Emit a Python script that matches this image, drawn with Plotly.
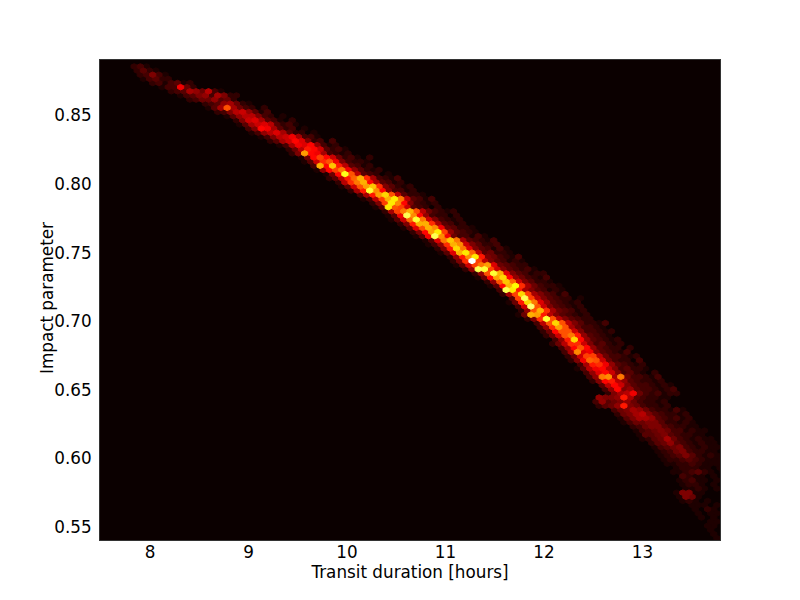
import plotly.graph_objects as go

X_LABEL = "Transit duration [hours]"
Y_LABEL = "Impact parameter"
x_ticks = [8, 9, 10, 11, 12, 13]
y_ticks = [0.55, 0.60, 0.65, 0.70, 0.75, 0.80, 0.85]
y_tick_text = ["0.55", "0.60", "0.65", "0.70", "0.75", "0.80", "0.85"]
DURATION_RANGE = [7.4925, 13.787]
IMPACT_RANGE = [0.5405, 0.8905]
LATTICE_TOP = 0.8888
GRID_COLS = 100
GRID_ROWS = 58
MAX_COUNT = 35

# Hexbin rows, counted from the top edge; each row holds its first column and the counts
first_col = [5,6,6,7,8,10,11,13,14,17,17,19,20,22,22,24,24,26,27,29,30,31,32,33,34,35,36,37,38,39,40,42,42,44,44,46,46,47,48,49,50,51,52,53,54,55,56,57,57,59,60,61,62,63,64,65,66,66,67,68,67,69,70,71,71,72,73,73,74,75,75,76,77,77,78,79,79,81,81,82,80,80,80,83,83,84,84,86,86,87,87,89,89,90,90,91,91,93,92,94,93,94,94,93,93,94,95,96,96,97,98,98,98,99,99]
first_row = 1
row_counts = [
[2,3,1],[2,4,2,1],[2,3,6,3,1],[1,3,4,2,2],[2,3,1,3,4,1,2],[1,3,3,12,5,2],
[2,3,4,8,7,5,9,3,1],[1,3,4,6,7,3,8,6,2,2],[2,3,5,5,7,4,5,2,0],[2,3,4,7,8,5,2,1],
[1,4,8,17,8,5,3,2,0,2],[2,3,6,9,10,7,4,1,3],[1,4,7,9,9,6,3,2,0,1],[2,6,10,11,8,4,3,1,0,2],
[1,4,8,10,11,9,4,2,3,1],[3,6,13,12,8,4,2,3,0,1],[1,3,7,9,11,8,4,2,2,0,1],[1,3,6,9,10,12,8,3,3,1],
[2,4,8,10,13,11,6,2,3,0,3],[1,3,8,12,11,13,7,3,1,2],[2,5,9,14,13,10,4,2,3,1],[2,6,21,13,12,8,3,2,1,2],
[1,5,13,16,13,10,5,2,3,1,0,2],[1,4,10,15,17,12,6,3,2,2,1],[3,22,13,23,14,9,4,3,1,2],[1,7,13,16,19,12,7,4,2,1,2],
[1,5,13,27,17,9,4,3,2,0,1],[2,4,9,14,18,22,15,8,3,2,1,3],[2,9,15,19,22,13,8,4,3,1,2],[1,4,10,17,21,23,15,6,4,2,1,2],
[2,8,14,28,20,13,6,3,3,1,2],[3,8,14,21,24,17,9,4,2,2,1],[1,3,9,16,22,25,19,9,4,3,1,3],[2,6,16,25,20,13,6,3,2,1,2],
[1,4,25,17,16,10,4,3,2,0,2],[2,8,16,19,22,17,9,5,3,2,1,2],[1,4,12,29,20,13,7,3,2,2,0,2],[1,4,10,18,28,19,10,6,3,2,1,2],
[2,6,14,22,22,15,8,4,3,1,2],[1,4,11,17,22,20,12,5,4,2,2,1],[2,6,13,21,25,16,7,4,3,2,1],[1,4,12,29,20,12,5,3,3,1,3,1],
[1,4,11,19,23,19,8,4,3,2,1,3],[1,3,7,15,22,20,10,6,4,2,2,3],[2,6,14,24,19,11,6,4,3,1,3,1],[1,4,11,22,25,18,9,4,5,2,2,1],
[2,7,14,20,25,14,6,5,3,2,1,3],[2,6,15,35,16,9,6,4,3,1,2,1],[1,4,10,16,19,21,11,5,4,3,2,2],[2,7,29,28,16,10,6,4,3,2,3,1],
[2,7,17,28,22,11,6,4,3,1,2,2],[1,5,13,21,24,13,7,5,3,2,1,3],[2,7,17,23,18,10,6,4,2,2,1],[1,4,13,22,26,15,8,5,3,2,2,1],
[3,29,25,14,8,6,4,3,1,2,1],[2,8,16,24,16,8,6,4,3,1,3],[4,16,29,16,9,6,4,3,2,2,0,1],[1,5,14,24,19,11,7,4,3,2,1,2],
[3,10,30,17,10,6,4,3,2,1,2],[2,7,17,22,15,8,5,4,3,1,2],[1,5,22,21,14,9,6,4,3,2,1,2],[2,6,15,28,17,9,6,4,3,2,2],
[3,9,17,24,17,9,6,4,2,2,1,3],[3,7,15,21,17,8,5,3,3,2,1],[2,5,13,17,17,10,6,3,3,2,1,2],[2,5,10,17,19,14,7,4,3,2,1],
[3,7,14,24,13,7,4,3,2,1,2],[2,5,9,15,15,10,6,3,4,2,1,2],[3,7,13,17,13,7,4,3,2,2,0,2],[3,8,20,11,12,6,4,3,2,1,3],
[2,5,10,16,16,9,5,3,3,2,1,2],[2,6,12,18,17,10,5,3,2,2,0,3],[3,8,14,15,12,7,4,3,2,1,2],[1,4,9,12,13,9,6,3,4,2,2,1],
[3,7,11,13,10,6,3,4,2,1,0,2],[3,7,19,20,8,19,5,3,3,2,1,3],[2,6,13,14,9,7,4,3,2,2,1,2],[4,9,13,10,6,4,3,3,2,1,2,1],
[3,7,13,6,7,4,3,3,2,1,2,3],[2,6,8,9,12,5,3,2,3,1,2,2],[7,6,6,7,14,8,4,3,2,2,1,1],[3,7,4,5,6,7,5,3,2,2,1,2],
[2,4,5,7,14,6,5,3,2,2,1,2],[3,5,6,8,7,5,3,2,2,1,3,1],[2,5,6,8,9,6,4,3,2,2,1,2],[1,4,6,8,8,7,4,3,2,3,1,2],
[1,3,5,5,6,6,4,2,2,1,2,1],[2,3,5,6,6,4,3,2,2,1,1],[1,3,4,5,6,5,3,3,1,2,1,1],[1,4,4,5,6,4,3,2,2,1,1,0],
[1,2,4,5,8,5,3,2,1,2,1,1],[2,4,5,7,4,3,2,1,2,1,1],[1,3,4,5,6,3,2,1,2,1,1],[1,2,3,5,6,3,2,2,1,1,0],
[1,2,3,4,6,4,2,1,2,1,1],[1,2,2,3,4,3,2,1,1,1,0],[1,1,2,2,3,2,1,1,1,0],[1,2,2,2,1,1,0,1],
[1,1,2,3,4,2,1,0,1],[3,2,1,1,0,1],[1,2,3,1,1,0,1],[1,2,2,1,0,1],[1,1,2,1,0,1],[1,6,6,1,1,0],
[1,6,5,1,0],[1,2,1,0,1],[1,1,1,0,1],[1,0,2,1,0],[1,0,1,1],[1,0,1],[1,1],[1,1],[1],[1],[1],
]


def hot(v):
    t = min(max(v / MAX_COUNT, 0), 1)
    r = min(1, 0.0416 + t * (1 - 0.0416) / 0.365)
    g = min(1, max(0, (t - 0.365) / 0.381))
    b = min(1, max(0, (t - 0.746) / 0.254))
    return f"rgb({round(r*255)},{round(g*255)},{round(b*255)})"


dx = (DURATION_RANGE[1] - DURATION_RANGE[0]) / GRID_COLS
dy = (IMPACT_RANGE[1] - IMPACT_RANGE[0]) / GRID_ROWS
hex_shape = [(.5, -.5), (.5, .5), (0, 1), (-.5, .5), (-.5, -.5), (0, -1), (.5, -.5)]

by_count = {}
for i, counts in enumerate(row_counts):
    r = first_row + i
    y = LATTICE_TOP - r * dy / 2
    x0 = DURATION_RANGE[0] + (dx / 2 if r % 2 else 0)
    for j, n in enumerate(counts):
        if n == 0:
            continue
        x = x0 + (first_col[i] + j) * dx
        xs, ys = by_count.setdefault(n, ([], []))
        for px, py in hex_shape:
            xs.append(x + px * dx)
            ys.append(y + py * dy / 3)
        xs.append(None)
        ys.append(None)

fig = go.Figure()
for n in sorted(by_count):
    xs, ys = by_count[n]
    c = hot(n)
    fig.add_trace(go.Scatter(x=xs, y=ys, mode="lines", fill="toself", fillcolor=c,
                             line=dict(color=c, width=1), hoverinfo="skip", showlegend=False))

axis_font = dict(family="DejaVu Sans", size=16.8, color="black")
fig.update_layout(
    width=800, height=600, autosize=False,
    margin=dict(l=100, r=80, t=60, b=60),
    paper_bgcolor="white", plot_bgcolor="#0b0000",
    font=axis_font, showlegend=False,
    xaxis=dict(range=DURATION_RANGE, tickvals=x_ticks, ticks="", ticklabelstandoff=-3,
               showgrid=False, zeroline=False, showline=True, linecolor="#333", linewidth=1, mirror=True,
               tickfont=axis_font, title=dict(text=X_LABEL, font=axis_font, standoff=4)),
    yaxis=dict(range=IMPACT_RANGE, tickvals=y_ticks, ticktext=y_tick_text, ticks="outside", ticklen=4, tickcolor="white",
               showgrid=False, zeroline=False, showline=True, linecolor="#333", linewidth=1, mirror=True,
               tickfont=axis_font),
    annotations=[dict(text=Y_LABEL, font=axis_font, textangle=-90, showarrow=False,
                      xref="paper", yref="paper", x=0, y=0.5, xanchor="center", yanchor="middle", xshift=-53, yshift=2)],
)
fig.write_html("out.html", post_script="document.body.style.margin='0';", config={"displayModeBar": False})
